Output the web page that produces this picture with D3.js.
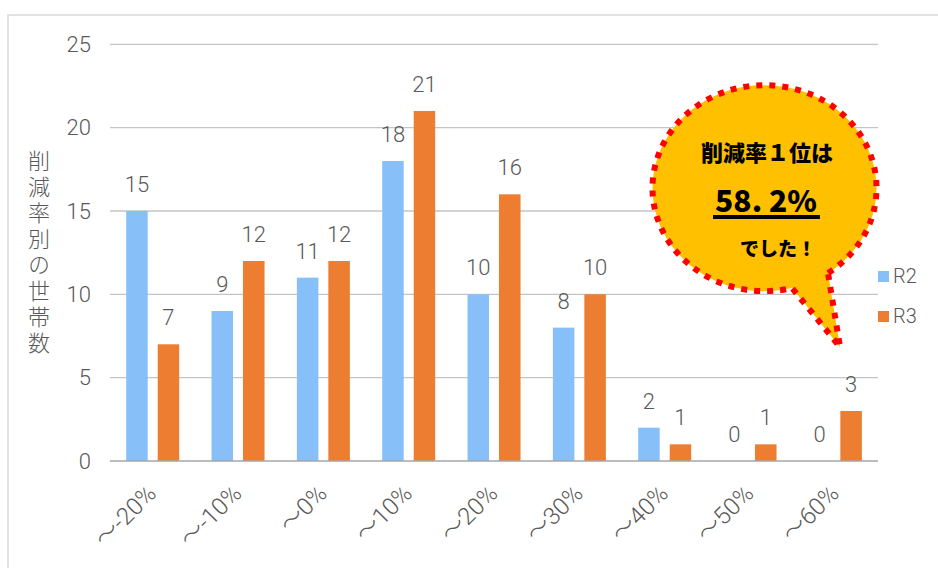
<!DOCTYPE html>
<html>
<head>
<meta charset="utf-8">
<script src="https://cdn.jsdelivr.net/npm/d3@7"></script>
<style>
  body { margin: 0; background: #fff; }
  svg { display: block; font-family: Roboto, "Noto Sans CJK JP", "Noto Sans", sans-serif; }
  .cjk { font-family: "Noto Sans CJK JP", sans-serif; }
</style>
</head>
<body>
<div id="chart"></div>
<script>
// data
const categories = ["～-20%", "～-10%", "～0%", "～10%", "～20%", "～30%", "～40%", "～50%", "～60%"];
const series = ["R2", "R3"];
const r2 = [15, 9, 11, 18, 10, 8, 2, 0, 0];
const r3 = [7, 12, 12, 21, 16, 10, 1, 1, 3];
const yTicks = [0, 5, 10, 15, 20, 25];
const colors = { R2: "#87c0f8", R3: "#ed7d31" };

const W = 938, H = 568;
const plotLeft = 110, plotRight = 878, plotTop = 44.3, plotBottom = 461;

const svg = d3.select("#chart").append("svg")
  .attr("width", W).attr("height", H);

// chart frame (only top and left edges are visible)
svg.append("rect")
  .attr("x", 8).attr("y", 15)
  .attr("width", W).attr("height", H)
  .attr("fill", "none")
  .attr("stroke", "#d9d9d9")
  .attr("stroke-width", 1.5);

const x0 = d3.scaleBand().domain(categories).range([plotLeft, plotRight]);
const x1 = d3.scaleBand().domain(series).range([16.2, 69.2]).paddingInner(0.317);
const y = d3.scaleLinear().domain([0, 25]).range([plotBottom, plotTop]);

// gridlines
svg.append("g")
  .selectAll("line")
  .data(yTicks.filter(d => d > 0)).enter()
  .append("line")
  .attr("x1", plotLeft).attr("x2", plotRight)
  .attr("y1", d => y(d)).attr("y2", d => y(d))
  .attr("stroke", "#c4c4c4")
  .attr("stroke-width", 1.3);

// y axis labels
const yAxis = svg.append("g")
  .attr("transform", "translate(" + plotLeft + ",0)")
  .call(d3.axisLeft(y).tickValues(yTicks).tickSize(0).tickPadding(19));
yAxis.select(".domain").remove();
yAxis.selectAll("text")
  .attr("fill", "#595959")
  .style("font-family", "Roboto, sans-serif")
  .style("font-size", "22px")
  .style("font-weight", 300);

// y title, vertical writing
svg.append("text")
  .attr("class", "cjk")
  .attr("x", 39)
  .attr("y", 150)
  .attr("fill", "#595959")
  .style("writing-mode", "vertical-rl")
  .style("text-orientation", "upright")
  .style("letter-spacing", "4px")
  .style("font-size", "22px")
  .style("font-weight", 300)
  .text("削減率別の世帯数");

// bars
const rows = categories.map((c, i) => ({ cat: c, values: [{ s: "R2", v: r2[i] }, { s: "R3", v: r3[i] }] }));

const groups = svg.append("g")
  .selectAll("g")
  .data(rows).enter()
  .append("g")
  .attr("transform", d => "translate(" + x0(d.cat) + ",0)");

groups.selectAll("rect")
  .data(d => d.values).enter()
  .append("rect")
  .attr("x", d => x1(d.s))
  .attr("width", x1.bandwidth())
  .attr("y", d => y(d.v))
  .attr("height", d => plotBottom - y(d.v))
  .attr("fill", d => colors[d.s]);

groups.selectAll("text")
  .data(d => d.values).enter()
  .append("text")
  .attr("x", d => x1(d.s) + x1.bandwidth() / 2)
  .attr("y", d => y(d.v) - 19)
  .attr("text-anchor", "middle")
  .attr("fill", "#595959")
  .style("font-size", "22px")
  .style("font-weight", 300)
  .text(d => d.v);

// zero line
svg.append("line")
  .attr("x1", plotLeft).attr("x2", plotRight)
  .attr("y1", plotBottom).attr("y2", plotBottom)
  .attr("stroke", "#a6a6a6")
  .attr("stroke-width", 1.5);

// x labels, rotated
svg.append("g")
  .selectAll("text")
  .data(categories).enter()
  .append("text")
  .attr("transform", d => "translate(" + (x0(d) + x0.bandwidth() / 2 + 5) + "," + (plotBottom + 34) + ") rotate(-45)")
  .attr("text-anchor", "end")
  .attr("fill", "#595959")
  .style("font-size", "24px")
  .style("font-weight", 300)
  .text(d => d);

// legend
const legend = svg.append("g")
  .selectAll("g")
  .data(series).enter()
  .append("g")
  .attr("transform", (d, i) => "translate(878," + (271 + i * 40) + ")");
legend.append("rect")
  .attr("width", 11).attr("height", 11)
  .attr("fill", d => colors[d]);
legend.append("text")
  .attr("x", 15).attr("y", 12)
  .attr("fill", "#595959")
  .style("font-size", "20px")
  .style("font-weight", 300)
  .text(d => d);

// speech bubble
const bubble = svg.append("g");
bubble.append("path")
  .attr("d", "M828,273 A112,103 0 1 0 792,288 L840,347 Z")
  .attr("fill", "#ffc000")
  .attr("stroke", "#ff0000")
  .attr("stroke-width", 6)
  .attr("stroke-dasharray", "6 7");

bubble.append("text")
  .attr("class", "cjk")
  .attr("x", 767).attr("y", 161)
  .attr("text-anchor", "middle")
  .style("font-size", "22px")
  .style("font-weight", 900)
  .text("削減率１位は");

bubble.append("text")
  .attr("class", "cjk")
  .attr("x", 766).attr("y", 212)
  .attr("text-anchor", "middle")
  .style("font-size", "30px")
  .style("font-weight", 900)
  .text("58. 2%");

bubble.append("rect")
  .attr("x", 713).attr("y", 215)
  .attr("width", 107).attr("height", 4)
  .attr("fill", "#000");

bubble.append("text")
  .attr("class", "cjk")
  .attr("x", 778).attr("y", 256)
  .attr("text-anchor", "middle")
  .style("font-size", "19px")
  .style("font-weight", 900)
  .text("でした！");
</script>
</body>
</html>
